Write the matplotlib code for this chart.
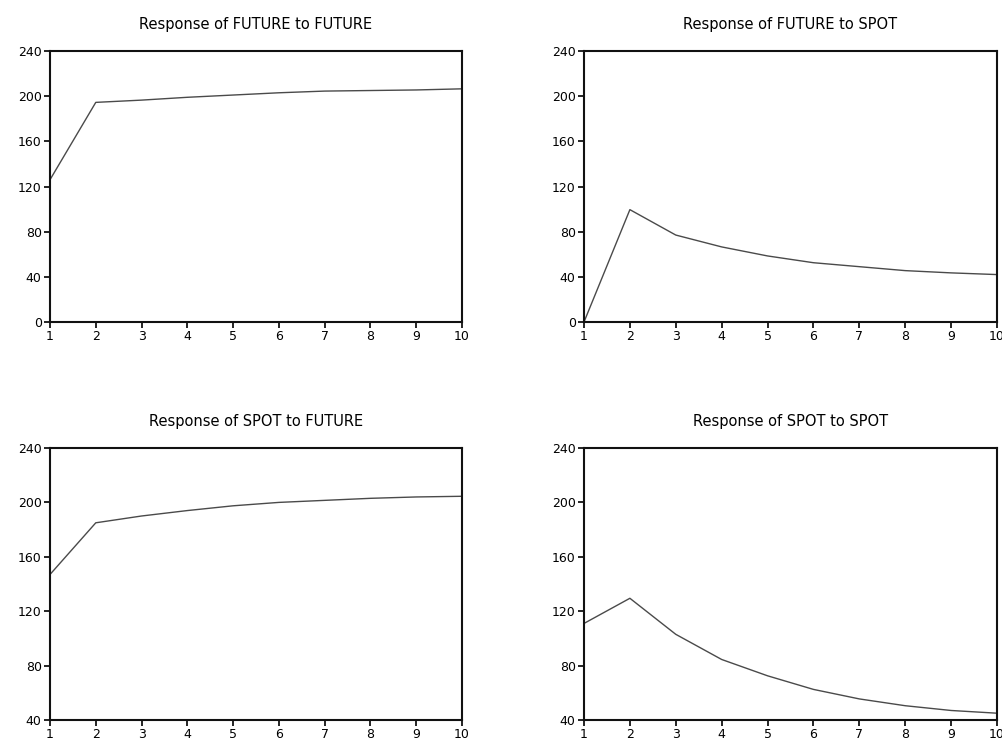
import matplotlib

matplotlib.use("Agg")
import matplotlib.pyplot as plt

W, H = 1003, 742

periods = list(range(1, 11))

# impulse responses read per period
future_to_future = [126, 194.5, 196.5, 199, 201, 203, 204.5, 205, 205.5, 206.5]
future_to_spot = [0, 99.5, 77, 66.5, 58.5, 52.5, 49, 45.5, 43.5, 42]
spot_to_future = [147, 185, 190, 194, 197.5, 200, 201.5, 203, 204, 204.5]
spot_to_spot = [111, 129.5, 103, 84.5, 72.5, 62.5, 55.5, 50.5, 47, 45]

titles = [
    "Response of FUTURE to FUTURE",
    "Response of FUTURE to SPOT",
    "Response of SPOT to FUTURE",
    "Response of SPOT to SPOT",
]
series = [future_to_future, future_to_spot, spot_to_future, spot_to_spot]
yticks_top = [0, 40, 80, 120, 160, 200, 240]
yticks_bottom = [40, 80, 120, 160, 200, 240]

plt.rcParams["font.family"] = ["DejaVu Sans"]

fig = plt.figure(figsize=(W / 100, H / 100), dpi=100)

# panel boxes in pixels: left, top, right, bottom
boxes = [
    (50, 51, 462, 322),
    (584, 51, 997, 322),
    (50, 448, 462, 720),
    (584, 448, 997, 720),
]

for i, (box, vals, title) in enumerate(zip(boxes, series, titles)):
    l, t, r, b = box
    ax = fig.add_axes([l / W, 1 - b / H, (r - l) / W, (b - t) / H])
    ax.plot(periods, vals, color="#4a4a4a", lw=1.0)
    ax.set_xlim(1, 10)
    ticks = yticks_top if i < 2 else yticks_bottom
    ax.set_ylim(ticks[0], ticks[-1])
    ax.set_yticks(ticks)
    ax.set_xticks(periods)
    ax.tick_params(direction="out", length=4, width=1.2, labelsize=9, pad=2)
    for s in ax.spines.values():
        s.set_linewidth(1.5)
        s.set_color("#111111")
    ax.set_title(title, fontsize=10.5, pad=16)

fig.savefig("out.png", dpi=100)
